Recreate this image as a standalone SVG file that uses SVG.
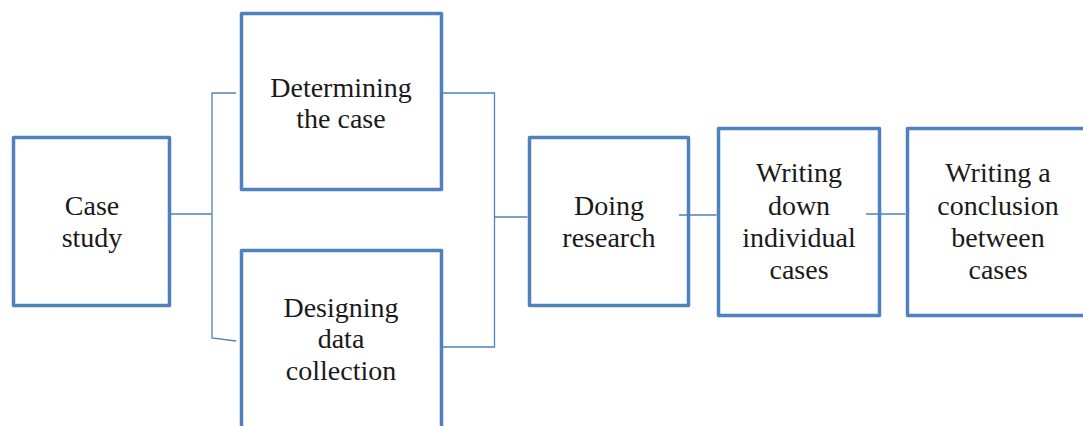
<svg xmlns="http://www.w3.org/2000/svg" width="1083" height="426" viewBox="0 0 1083 426">
<style>
.box{fill:#ffffff;stroke:#4f81bd;stroke-width:3.5;stroke-linejoin:round}
.con{fill:none;stroke:#4f81bd;stroke-width:1.3}
text{font-family:"Liberation Serif","Times New Roman",serif;font-size:28px;fill:#1a1a1a;text-anchor:middle}
</style>
<rect width="1083" height="426" fill="#ffffff"/>
<g id="case-study">
<rect class="box" x="13.5" y="137.5" width="156" height="168"/>
<text x="92" y="215">Case</text>
<text x="92" y="247">study</text>
</g>
<g id="determining">
<rect class="box" x="241.5" y="13.5" width="200" height="176"/>
<text x="341" y="97">Determining</text>
<text x="341" y="128">the case</text>
</g>
<g id="designing">
<rect class="box" x="241.5" y="250.5" width="200" height="190"/>
<text x="341" y="317">Designing</text>
<text x="341" y="348">data</text>
<text x="341" y="380">collection</text>
</g>
<g id="doing-research">
<rect class="box" x="529.5" y="137.5" width="159" height="168"/>
<text x="609" y="215">Doing</text>
<text x="609" y="247">research</text>
</g>
<g id="writing-down">
<rect class="box" x="718.5" y="128.5" width="161" height="187"/>
<text x="799" y="182">Writing</text>
<text x="799" y="215">down</text>
<text x="799" y="247">individual</text>
<text x="799" y="279">cases</text>
</g>
<g id="conclusion">
<rect class="box" x="907.5" y="128.5" width="182" height="187"/>
<text x="998" y="182">Writing a</text>
<text x="998" y="215">conclusion</text>
<text x="998" y="247">between</text>
<text x="998" y="279">cases</text>
</g>
<g id="connectors">
<polyline class="con" points="171,214 212,214"/>
<polyline class="con" points="236,93 212,93 212,338 236,341"/>
<polyline class="con" points="443,93 494.5,93 494.5,347 443,347"/>
<polyline class="con" points="494.5,217 527.5,217"/>
<polyline class="con" points="679,215 716.5,215"/>
<polyline class="con" points="866,214 905.5,214"/>
</g>
</svg>
